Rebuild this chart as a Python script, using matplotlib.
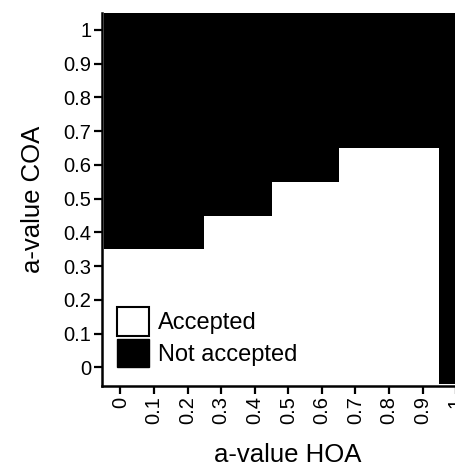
import numpy as np
import matplotlib
matplotlib.use("Agg")
import matplotlib.pyplot as plt
from matplotlib.colors import ListedColormap
from matplotlib.patches import Patch

plt.rcParams['font.family'] = ['Liberation Sans', 'DejaVu Sans']

hoa_values = [0, 0.1, 0.2, 0.3, 0.4, 0.5, 0.6, 0.7, 0.8, 0.9, 1]
coa_values = [0, 0.1, 0.2, 0.3, 0.4, 0.5, 0.6, 0.7, 0.8, 0.9, 1]
# highest accepted COA a-value for each HOA a-value (None = nothing accepted)
max_accepted_coa = [0.3, 0.3, 0.3, 0.4, 0.4, 0.5, 0.5, 0.6, 0.6, 0.6, None]
tick_labels = ['0', '0.1', '0.2', '0.3', '0.4', '0.5', '0.6', '0.7', '0.8', '0.9', '1']

grid = np.zeros((len(coa_values), len(hoa_values)))
for j, lim in enumerate(max_accepted_coa):
    for i, c in enumerate(coa_values):
        if lim is not None and c <= lim + 1e-9:
            grid[i, j] = 1

fig = plt.figure(figsize=(4.55, 4.68), dpi=100)
ax = fig.add_axes([102 / 455, 82 / 468, 371 / 455, 373 / 468])
cmap = ListedColormap(['black', 'white'])
ax.pcolormesh(np.array(hoa_values + [1.1]) - 0.05, np.array(coa_values + [1.1]) - 0.05,
              grid, cmap=cmap, vmin=0, vmax=1, shading='flat', antialiased=False)
ax.set_xlim(-0.055, 1.05)
ax.set_ylim(-0.055, 1.05)
ax.set_xticks(hoa_values)
ax.set_xticklabels(tick_labels, rotation=90, fontsize=14.5)
ax.set_yticks(coa_values)
ax.set_yticklabels(tick_labels, fontsize=14.5)
ax.tick_params(width=1.6, length=6, pad=1.5)
for s in ['top', 'right']:
    ax.spines[s].set_visible(False)
for s in ['left', 'bottom']:
    ax.spines[s].set_linewidth(1.8)
ax.set_xlabel('a-value HOA', fontsize=18.5)
ax.set_ylabel('a-value COA', fontsize=18.5)
ax.xaxis.set_label_coords(0.5, (386 - 454.5) / 373)
ax.xaxis.label.set_va('center')
ax.yaxis.set_label_coords((33 - 102) / 371, 0.5)
ax.yaxis.label.set_va('center')

handles = [Patch(facecolor='white', edgecolor='black', linewidth=1.5, label='Accepted'),
           Patch(facecolor='black', edgecolor='black', label='Not accepted')]
ax.legend(handles=handles, loc='lower left', bbox_to_anchor=((117 - 102) / 371, (386 - 367) / 373),
          frameon=False, fontsize=17, handlelength=1.36, handleheight=1.47, handletextpad=0.38,
          labelspacing=0.12, borderaxespad=0, borderpad=0)

fig.savefig('out.png', dpi=100)
